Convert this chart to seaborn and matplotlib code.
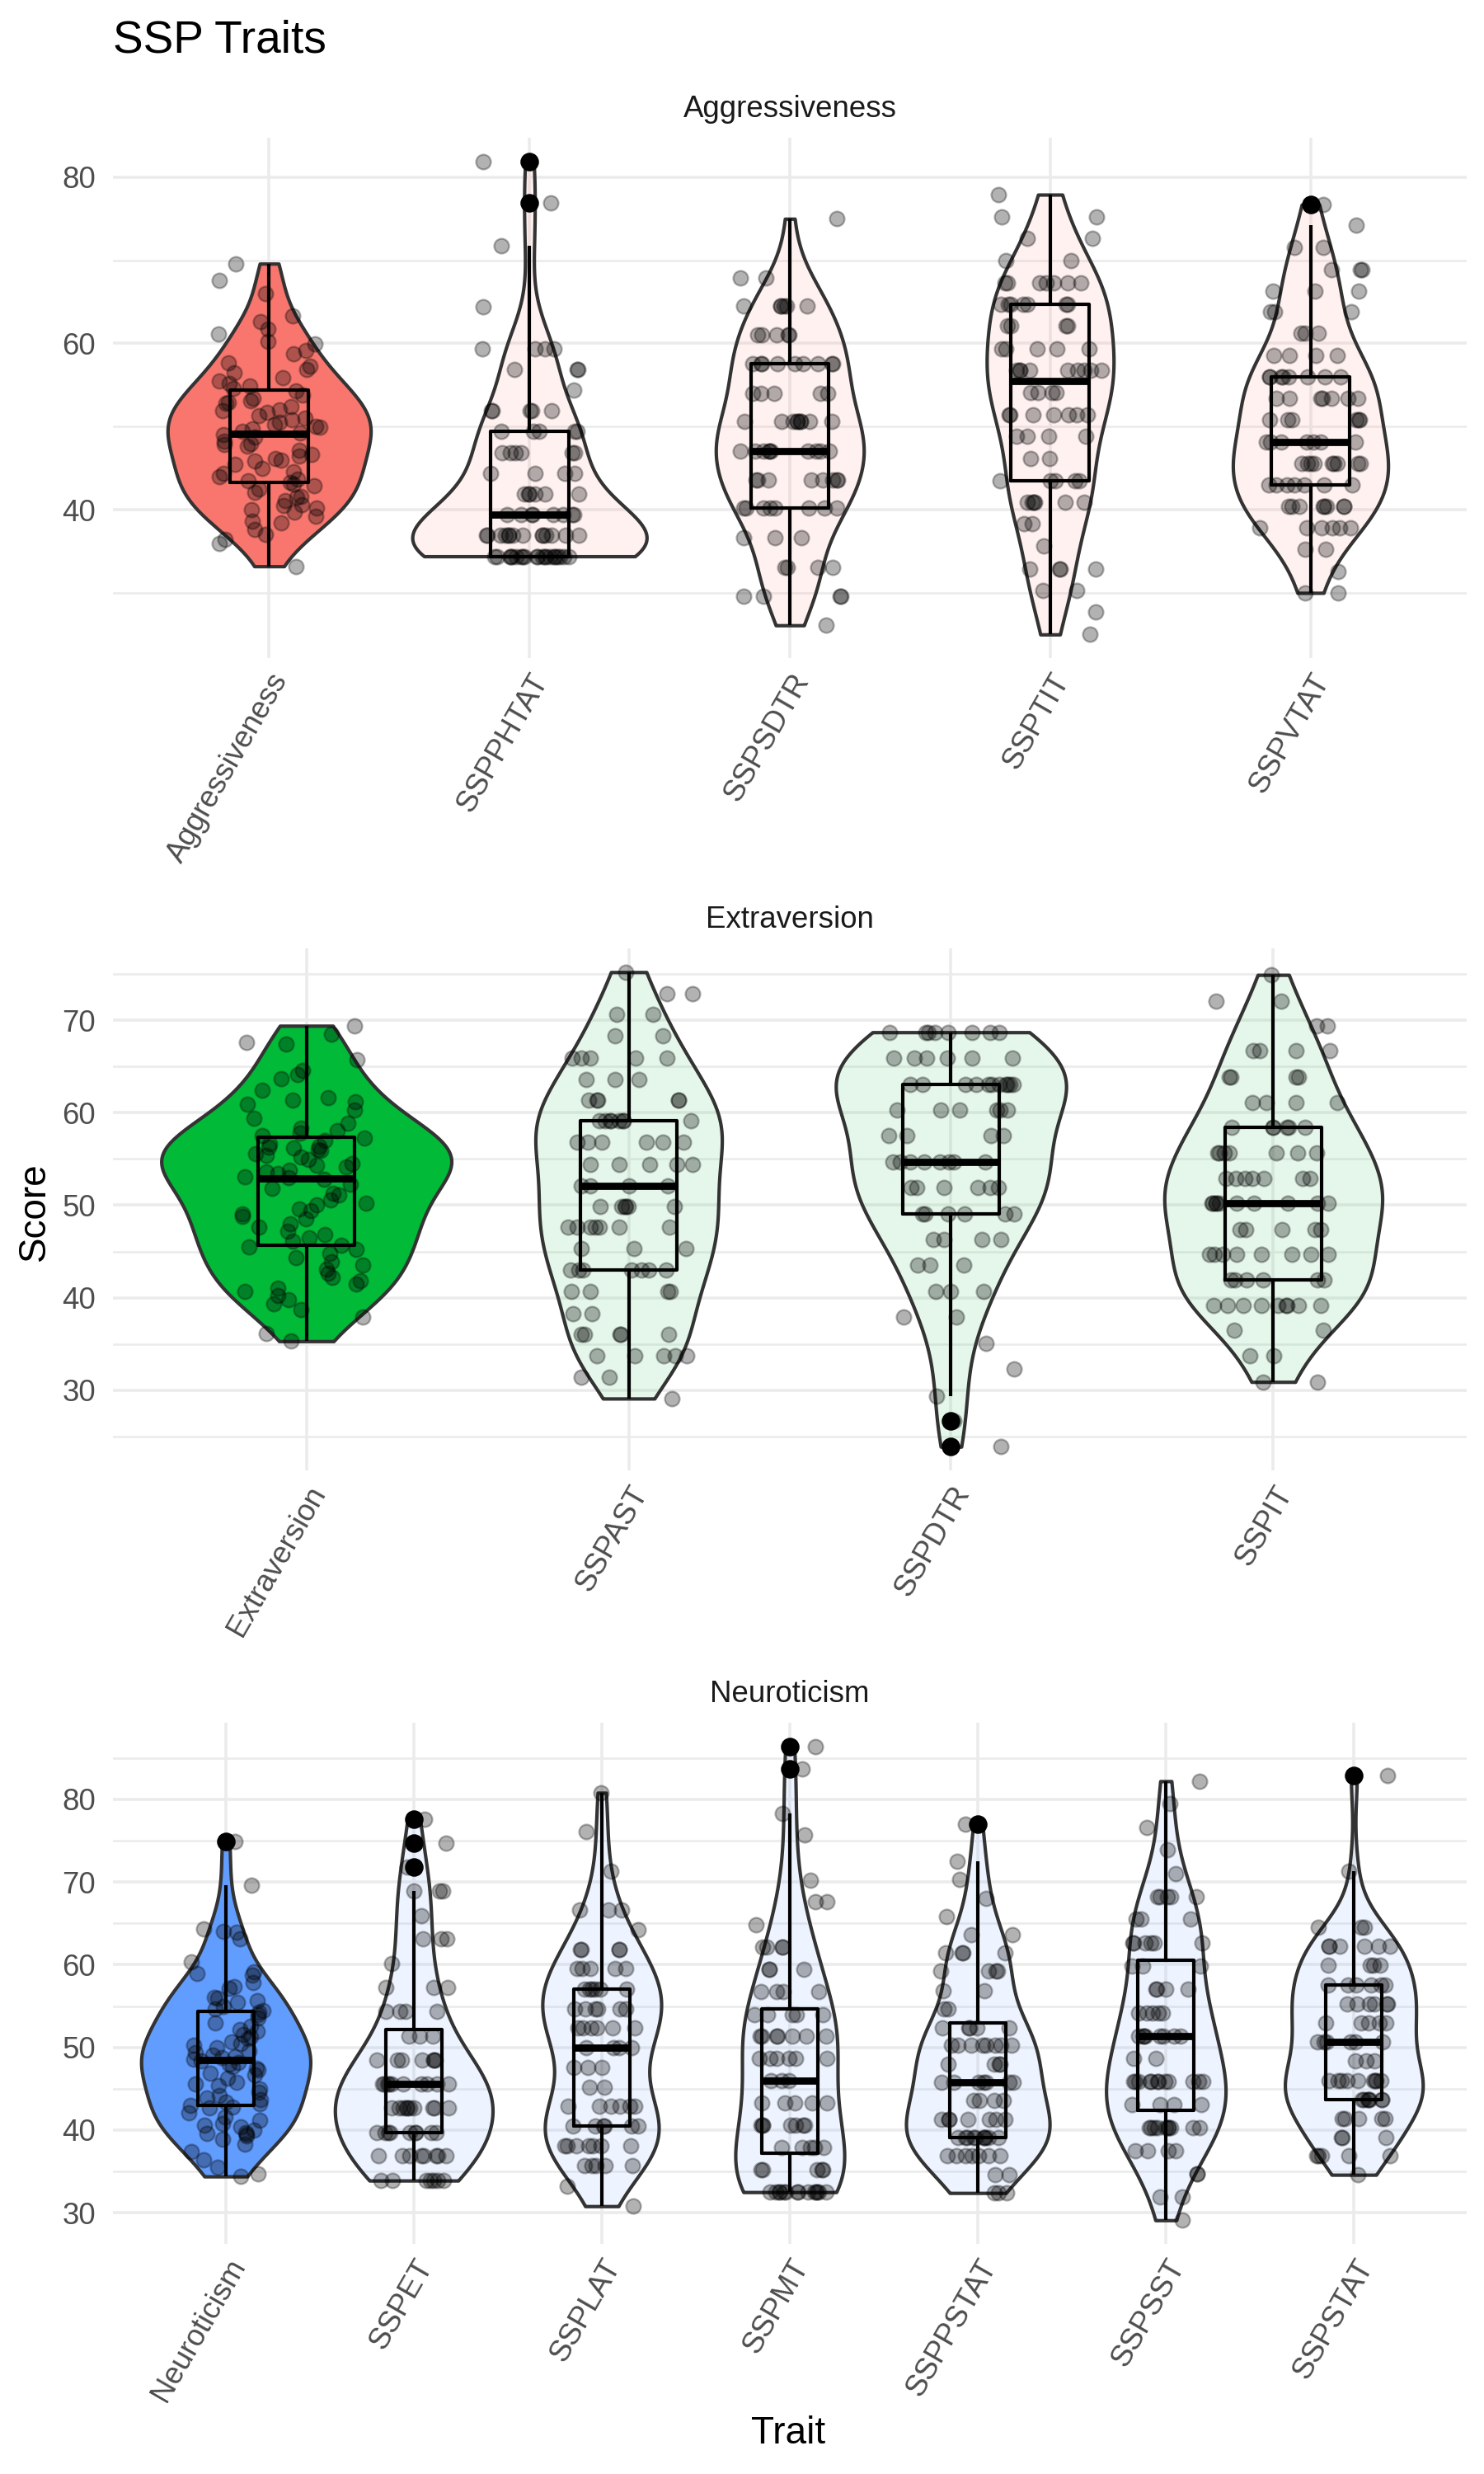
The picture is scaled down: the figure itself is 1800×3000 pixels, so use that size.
import numpy as np
import pandas as pd
import matplotlib
matplotlib.use("Agg")
import matplotlib.pyplot as plt
from matplotlib.colors import to_rgba
from matplotlib.ticker import MultipleLocator
import seaborn as sns

sns.set_theme(style="white")
plt.rcParams['font.family'] = ['Liberation Sans', 'DejaVu Sans']

# ---------------- data ----------------
FACETS = ["Aggressiveness", "Extraversion", "Neuroticism"]
FACET_COLORS = ["#F8766D", "#00BA38", "#619CFF"]

ORDER_AGG = ["Aggressiveness", "SSPPHTAT", "SSPSDTR", "SSPTIT", "SSPVTAT"]
ORDER_EXT = ["Extraversion", "SSPAST", "SSPDTR", "SSPIT"]
ORDER_NEU = ["Neuroticism", "SSPET", "SSPLAT", "SSPMT", "SSPPSTAT", "SSPSST", "SSPSTAT"]

AGGRESSIVENESS = [69.6, 67.6, 66.0, 63.3, 62.6, 61.7, 61.1, 60.2, 59.9, 59.2,
                  58.8, 57.7, 57.3, 56.9, 56.5, 55.9, 55.5, 55.2, 54.9, 54.6,
                  54.3, 53.8, 53.4, 53.1, 52.9, 52.8, 52.4, 52.0, 51.9, 51.7,
                  51.3, 51.0, 50.8, 50.5, 50.2, 50.0, 49.9, 49.7, 49.4, 49.2,
                  49.0, 48.7, 48.2, 47.9, 47.8, 47.6, 47.2, 46.7, 46.5, 46.2,
                  46.0, 45.9, 45.5, 45.0, 44.6, 44.4, 44.0, 43.7, 43.5, 43.3,
                  43.1, 42.9, 42.5, 42.1, 41.6, 41.5, 41.1, 40.6, 40.5, 40.2,
                  40.0, 39.7, 39.2, 38.6, 38.4, 37.6, 37.0, 36.4, 35.9, 33.2]

SSPPHTAT_LEVELS = [34.4, 36.9, 39.4, 41.9, 44.4, 46.9, 49.4, 51.9, 54.4, 56.9, 59.4, 64.4, 71.8, 76.9, 81.9]
SSPPHTAT_COUNTS = [21, 14, 8, 6, 4, 6, 5, 5, 1, 3, 4, 1, 1, 1, 1]

SSPSDTR_LEVELS = [26.1, 29.6, 33.1, 36.6, 40.2, 43.6, 47.1, 50.6, 54.0, 57.6, 61.0, 64.5, 67.9, 75.0]
SSPSDTR_COUNTS = [1, 4, 4, 3, 8, 8, 10, 9, 5, 9, 5, 6, 2, 1]

SSPTIT_LEVELS = [25.0, 27.7, 30.3, 32.9, 35.6, 38.3, 40.9, 43.5, 46.2, 48.8, 51.4,
                 54.1, 56.8, 59.4, 62.1, 64.7, 67.3, 70.0, 72.6, 75.2, 77.9]
SSPTIT_COUNTS = [1, 1, 2, 4, 1, 2, 6, 5, 2, 4, 7, 4, 9, 5, 4, 7, 7, 2, 2, 2, 1]

SSPVTAT_LEVELS = [30.0, 32.6, 35.2, 37.8, 40.4, 43.0, 45.6, 48.1, 50.8, 53.4,
                  56.0, 58.6, 61.2, 63.8, 66.3, 68.9, 71.6, 74.2, 76.7]
SSPVTAT_COUNTS = [2, 1, 2, 6, 8, 7, 9, 7, 6, 7, 8, 4, 3, 3, 3, 3, 2, 1, 1]

EXTRAVERSION = [69.4, 68.5, 67.6, 67.4, 65.7, 64.6, 64.1, 63.7, 62.4, 61.6,
                61.4, 61.2, 60.9, 60.3, 59.4, 58.9, 58.3, 58.1, 57.8, 57.5,
                57.3, 57.0, 56.6, 56.4, 56.3, 56.2, 56.0, 55.9, 55.6, 55.4,
                55.2, 54.9, 54.5, 54.3, 54.1, 53.8, 53.6, 53.4, 53.1, 53.0,
                52.8, 52.3, 51.8, 51.3, 51.1, 50.6, 50.2, 50.0, 49.6, 49.4,
                49.1, 48.8, 48.5, 48.0, 47.6, 47.2, 46.8, 46.5, 46.1, 45.7,
                45.5, 45.2, 44.8, 44.3, 43.9, 43.5, 43.1, 42.6, 42.2, 41.8,
                41.5, 41.0, 40.7, 40.2, 39.8, 39.3, 38.7, 37.9, 36.1, 35.3]

SSPAST_LEVELS = [29.1, 31.4, 33.7, 36.0, 38.3, 40.7, 43.0, 45.3, 47.6, 49.9, 52.1,
                 54.4, 56.8, 59.1, 61.4, 63.6, 65.9, 68.3, 70.6, 72.9, 75.2]
SSPAST_COUNTS = [1, 2, 5, 5, 2, 4, 7, 3, 7, 6, 4, 5, 6, 8, 5, 3, 5, 2, 2, 2, 1]

SSPDTR_LEVELS = [23.9, 26.7, 29.4, 32.3, 35.1, 37.9, 40.7, 43.5, 46.3, 49.1, 51.9,
                 54.7, 57.5, 60.3, 63.1, 65.9, 68.7]
SSPDTR_COUNTS = [1, 1, 1, 1, 1, 2, 3, 3, 4, 6, 6, 8, 4, 6, 11, 6, 8]

SSPIT_LEVELS = [30.9, 33.7, 36.5, 39.2, 41.9, 44.7, 47.4, 50.2, 52.9, 55.7, 58.4,
                61.1, 63.9, 66.7, 69.4, 72.1, 74.9]
SSPIT_COUNTS = [2, 2, 2, 9, 6, 8, 5, 10, 7, 7, 6, 4, 4, 4, 2, 2, 1]

NEUROTICISM = [74.9, 69.6, 64.3, 64.0, 63.9, 63.1, 60.3, 59.1, 58.9, 58.7,
               57.8, 57.4, 57.2, 56.1, 56.0, 55.7, 55.5, 55.0, 54.7, 54.5,
               54.3, 54.0, 53.6, 53.0, 52.6, 52.2, 52.0, 51.6, 51.3, 51.1,
               50.7, 50.5, 50.3, 50.0, 49.6, 49.4, 49.1, 48.9, 48.8, 48.6,
               48.4, 48.2, 48.0, 47.7, 47.5, 47.3, 46.9, 46.7, 46.3, 45.8,
               45.6, 45.4, 45.0, 44.6, 44.2, 43.9, 43.7, 43.4, 43.2, 43.0,
               42.8, 42.7, 42.1, 41.6, 41.2, 40.8, 40.6, 40.4, 40.0, 39.7,
               39.6, 39.5, 39.3, 38.9, 38.3, 37.4, 36.4, 35.5, 34.7, 34.4]

SSPET_LEVELS = [33.9, 36.9, 39.7, 42.7, 45.6, 48.5, 51.4, 54.4, 57.3, 60.1, 63.1,
                65.9, 68.9, 71.8, 74.7, 77.6]
SSPET_COUNTS = [7, 8, 9, 10, 10, 7, 3, 4, 3, 1, 3, 1, 3, 1, 1, 1]

SSPLAT_LEVELS = [30.8, 33.2, 35.7, 38.1, 40.5, 42.9, 45.2, 47.6, 50.0, 52.4, 54.7,
                 57.1, 59.5, 61.8, 64.2, 66.6, 71.3, 76.1, 80.8]
SSPLAT_COUNTS = [1, 1, 5, 7, 6, 6, 2, 3, 4, 6, 6, 6, 5, 4, 1, 3, 1, 1, 1]

SSPMT_LEVELS = [32.5, 35.2, 37.9, 40.6, 43.3, 46.0, 48.7, 51.4, 54.0, 56.8, 59.4,
                62.1, 64.8, 67.6, 70.2, 75.7, 78.3, 83.7, 86.4]
SSPMT_COUNTS = [14, 5, 5, 7, 5, 3, 6, 7, 5, 4, 3, 4, 1, 2, 1, 1, 1, 1, 1]

SSPPSTAT_LEVELS = [32.4, 34.6, 36.9, 39.1, 41.3, 43.6, 45.8, 48.0, 50.3, 52.4, 54.7,
                   56.9, 59.2, 61.4, 63.6, 65.8, 68.0, 70.3, 72.5, 77.0]
SSPPSTAT_COUNTS = [3, 2, 7, 10, 7, 4, 7, 4, 8, 5, 2, 2, 4, 4, 2, 1, 1, 1, 1, 1]

SSPSST_LEVELS = [29.1, 31.9, 34.7, 37.5, 40.3, 43.1, 45.9, 48.7, 51.4, 54.2, 57.1,
                 59.8, 62.6, 65.5, 68.2, 71.0, 73.9, 76.6, 79.5, 82.2]
SSPSST_COUNTS = [1, 2, 2, 4, 10, 4, 12, 2, 8, 5, 4, 3, 6, 3, 5, 1, 1, 1, 1, 1]

SSPSTAT_LEVELS = [34.6, 36.9, 39.1, 41.4, 43.7, 46.0, 48.4, 50.7, 53.0, 55.3, 57.6,
                  59.9, 62.2, 64.5, 71.3, 82.9]
SSPSTAT_COUNTS = [1, 5, 3, 5, 7, 9, 3, 6, 5, 6, 6, 4, 6, 3, 1, 1]


def expand(levels, counts):
    return list(np.repeat(levels, counts))


PANEL_DATA = {
    "Aggressiveness": {
        "Aggressiveness": AGGRESSIVENESS,
        "SSPPHTAT": expand(SSPPHTAT_LEVELS, SSPPHTAT_COUNTS),
        "SSPSDTR": expand(SSPSDTR_LEVELS, SSPSDTR_COUNTS),
        "SSPTIT": expand(SSPTIT_LEVELS, SSPTIT_COUNTS),
        "SSPVTAT": expand(SSPVTAT_LEVELS, SSPVTAT_COUNTS),
    },
    "Extraversion": {
        "Extraversion": EXTRAVERSION,
        "SSPAST": expand(SSPAST_LEVELS, SSPAST_COUNTS),
        "SSPDTR": expand(SSPDTR_LEVELS, SSPDTR_COUNTS),
        "SSPIT": expand(SSPIT_LEVELS, SSPIT_COUNTS),
    },
    "Neuroticism": {
        "Neuroticism": NEUROTICISM,
        "SSPET": expand(SSPET_LEVELS, SSPET_COUNTS),
        "SSPLAT": expand(SSPLAT_LEVELS, SSPLAT_COUNTS),
        "SSPMT": expand(SSPMT_LEVELS, SSPMT_COUNTS),
        "SSPPSTAT": expand(SSPPSTAT_LEVELS, SSPPSTAT_COUNTS),
        "SSPSST": expand(SSPSST_LEVELS, SSPSST_COUNTS),
        "SSPSTAT": expand(SSPSTAT_LEVELS, SSPSTAT_COUNTS),
    },
}
ORDERS = [ORDER_AGG, ORDER_EXT, ORDER_NEU]
MAJOR_STEPS = [20, 10, 10]

# ---------------- figure ----------------
np.random.seed(11)  # jitter only
fig = plt.figure(figsize=(6, 10), dpi=300)
fig.patch.set_facecolor("white")

LEFT, WIDTH = 137 / 1800, (1779 - 137) / 1800
PANEL_PX = [(167, 798), (1150, 1783), (2089, 2721)]
GRID = "#EBEBEB"

for k, facet in enumerate(FACETS):
    top, bot = PANEL_PX[k]
    ax = fig.add_axes([LEFT, 1 - bot / 3000, WIDTH, (bot - top) / 3000])
    order = ORDERS[k]
    rows = []
    for t in order:
        for v in PANEL_DATA[facet][t]:
            rows.append((t, float(v)))
    df = pd.DataFrame(rows, columns=["trait", "score"])

    n0 = len(ax.collections)
    sns.violinplot(data=df, x="trait", y="score", order=order, cut=0, width=0.9,
                   density_norm="area", inner=None, linewidth=1.0,
                   linecolor="#333333", color="white", saturation=1,
                   bw_adjust=0.9, gridsize=512, ax=ax)
    polys = ax.collections[n0:]
    for i, p in enumerate(polys):
        p.set_facecolor(to_rgba(FACET_COLORS[k], 1.0 if i == 0 else 0.1))
        p.set_edgecolor("#333333")

    sns.boxplot(data=df, x="trait", y="score", order=order, width=0.3, fill=False,
                color="black", linewidth=1.0, showcaps=False, whis=1.5,
                fliersize=4.4,
                flierprops=dict(marker="o", markerfacecolor="black",
                                markeredgecolor="black"),
                medianprops=dict(linewidth=2.1, color="black"),
                ax=ax)

    sns.stripplot(data=df, x="trait", y="score", order=order, color="black",
                  alpha=0.3, size=4.3, jitter=0.2, linewidth=0.55,
                  edgecolor="black", zorder=3, ax=ax)

    lo, hi = df["score"].min(), df["score"].max()
    rng = hi - lo
    ax.set_ylim(lo - 0.05 * rng, hi + 0.05 * rng)
    ax.set_xlim(-0.6, len(order) - 0.4)

    ax.yaxis.set_major_locator(MultipleLocator(MAJOR_STEPS[k]))
    ax.yaxis.set_minor_locator(MultipleLocator(MAJOR_STEPS[k] / 2))
    ax.set_axisbelow(True)
    ax.grid(which="major", axis="both", color=GRID, linewidth=0.85)
    ax.grid(which="minor", axis="y", color=GRID, linewidth=0.6)
    ax.xaxis.grid(True, which="major", color=GRID, linewidth=0.85)

    for s in ax.spines.values():
        s.set_visible(False)
    ax.set_facecolor("white")
    ax.set_xlabel("")
    ax.set_ylabel("")
    ax.tick_params(axis="both", which="both", length=0, labelsize=8.8,
                   labelcolor="#4D4D4D")
    ax.tick_params(axis="y", pad=5)
    ax.tick_params(axis="x", pad=3)
    for lbl in ax.get_xticklabels():
        lbl.set_rotation(60)
        lbl.set_ha("right")
        lbl.set_va("top")
        lbl.set_rotation_mode("anchor")

    ax.annotate(facet, xy=(0.5, 1.0), xycoords="axes fraction",
                xytext=(0, 8.4), textcoords="offset points",
                ha="center", va="center", fontsize=8.8, color="#1A1A1A")

fig.text(LEFT, 1 - 63 / 3000, "SSP Traits", fontsize=13.2, color="black",
         ha="left", va="baseline")
fig.text(42 / 1800, 1 - 1469 / 3000, "Score", fontsize=11, rotation=90,
         ha="center", va="center", color="black")
fig.text(956 / 1800, 1 - 2951 / 3000, "Trait", fontsize=11,
         ha="center", va="center", color="black")

fig.savefig("out.png", dpi=300, facecolor="white")
